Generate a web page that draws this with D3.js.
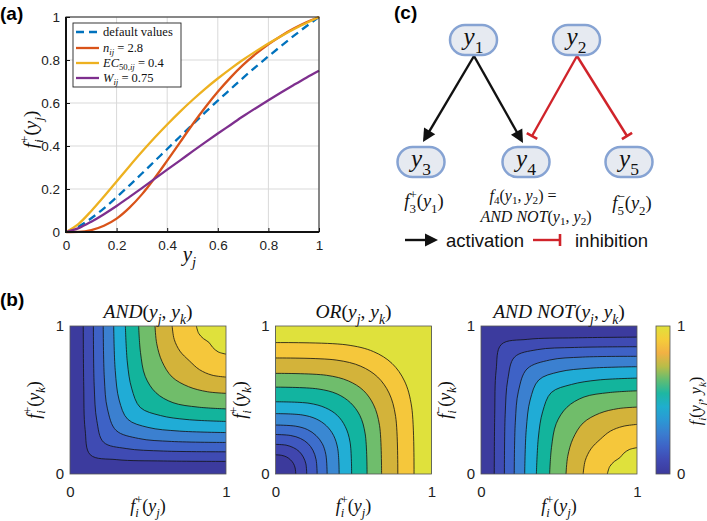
<!DOCTYPE html>
<html>
<head>
<meta charset="utf-8">
<style>
	body { margin: 0; background: #fff; }
	svg { display: block; }
	text { white-space: pre; }
	.axis .domain { display: none; }
</style>
</head>
<body>
<svg width="707" height="521"></svg>
<script src="https://d3js.org/d3.v7.min.js"></script>
<script>

// ---------- data, panel (a) ----------
var xVals = [0,0.05,0.1,0.15,0.2,0.25,0.3,0.35,0.4,0.45,0.5,0.55,0.6,0.65,0.7,0.75,0.8,0.85,0.9,0.95,1];
var defaultVals = [0,0.025,0.064,0.11,0.162,0.216,0.272,0.329,0.386,0.443,0.5,0.556,0.611,0.664,0.717,0.768,0.817,0.865,0.912,0.957,1];
var nVals = [0,0.001,0.009,0.029,0.062,0.112,0.175,0.25,0.332,0.416,0.5,0.579,0.652,0.718,0.777,0.828,0.873,0.912,0.946,0.975,1];
var ecVals = [0,0.038,0.098,0.165,0.235,0.305,0.373,0.438,0.5,0.559,0.614,0.666,0.714,0.759,0.801,0.84,0.877,0.911,0.943,0.972,1];
var wVals = [0,0.018,0.048,0.083,0.121,0.162,0.204,0.247,0.29,0.332,0.375,0.417,0.458,0.498,0.538,0.576,0.613,0.649,0.684,0.718,0.75];
var aTicks = [0,0.2,0.4,0.6,0.8,1];

// ---------- data, panel (b): contour lines ----------
var andLines = [
	[[0.085,1],[0.088,0.6],[0.097,0.3],[0.13,0.13],[0.3,0.097],[0.6,0.088],[1,0.085]],
	[[0.15,1],[0.155,0.6],[0.172,0.36],[0.215,0.215],[0.36,0.172],[0.6,0.155],[1,0.15]],
	[[0.213,1],[0.22,0.65],[0.24,0.44],[0.295,0.295],[0.44,0.24],[0.65,0.22],[1,0.213]],
	[[0.28,1],[0.29,0.7],[0.315,0.5],[0.37,0.37],[0.5,0.315],[0.7,0.29],[1,0.28]],
	[[0.355,1],[0.368,0.75],[0.395,0.58],[0.45,0.45],[0.58,0.395],[0.75,0.368],[1,0.355]],
	[[0.44,1],[0.452,0.82],[0.482,0.66],[0.55,0.55],[0.66,0.482],[0.82,0.452],[1,0.44]],
	[[0.545,1],[0.556,0.88],[0.59,0.76],[0.655,0.655],[0.76,0.59],[0.88,0.556],[1,0.545]],
	[[0.655,1],[0.668,0.91],[0.705,0.83],[0.765,0.765],[0.83,0.705],[0.91,0.668],[1,0.655]],
	[[0.81,1],[0.825,0.95],[0.855,0.915],[0.89,0.89],[0.915,0.855],[0.95,0.825],[1,0.81]]
];
var orLines = [
	[[0.13,0],[0.126,0.04],[0.115,0.071],[0.096,0.096],[0.071,0.115],[0.04,0.126],[0,0.13]],
	[[0.2,0],[0.195,0.068],[0.178,0.115],[0.152,0.152],[0.115,0.178],[0.068,0.195],[0,0.2]],
	[[0.267,0],[0.26,0.098],[0.24,0.16],[0.207,0.207],[0.16,0.24],[0.098,0.26],[0,0.267]],
	[[0.331,0],[0.323,0.13],[0.3,0.205],[0.26,0.26],[0.205,0.3],[0.13,0.323],[0,0.331]],
	[[0.408,0],[0.399,0.171],[0.372,0.261],[0.326,0.326],[0.261,0.372],[0.171,0.399],[0,0.408]],
	[[0.488,0],[0.478,0.215],[0.447,0.321],[0.396,0.396],[0.321,0.447],[0.215,0.478],[0,0.488]],
	[[0.587,0],[0.575,0.271],[0.541,0.395],[0.481,0.481],[0.395,0.541],[0.271,0.575],[0,0.587]],
	[[0.68,0],[0.667,0.327],[0.629,0.467],[0.564,0.564],[0.467,0.629],[0.327,0.667],[0,0.68]],
	[[0.784,0],[0.77,0.389],[0.728,0.547],[0.655,0.655],[0.547,0.728],[0.389,0.77],[0,0.784]],
	[[0.888,0],[0.873,0.452],[0.827,0.628],[0.747,0.747],[0.628,0.827],[0.452,0.873],[0,0.888]]
];
var andNotLines = [
	[[0.085,0],[0.088,0.4],[0.097,0.7],[0.13,0.875],[0.3,0.91],[0.6,0.92],[1,0.925]],
	[[0.15,0],[0.155,0.4],[0.172,0.64],[0.215,0.79],[0.36,0.84],[0.6,0.855],[1,0.86]],
	[[0.213,0],[0.22,0.35],[0.24,0.56],[0.295,0.71],[0.44,0.77],[0.65,0.79],[1,0.795]],
	[[0.28,0],[0.29,0.3],[0.315,0.5],[0.37,0.635],[0.5,0.69],[0.7,0.715],[1,0.725]],
	[[0.355,0],[0.368,0.25],[0.395,0.42],[0.45,0.55],[0.58,0.605],[0.75,0.635],[1,0.648]],
	[[0.44,0],[0.452,0.18],[0.482,0.34],[0.55,0.45],[0.66,0.52],[0.82,0.55],[1,0.562]],
	[[0.545,0],[0.556,0.12],[0.59,0.24],[0.655,0.345],[0.76,0.41],[0.88,0.442],[1,0.452]],
	[[0.655,0],[0.668,0.09],[0.705,0.17],[0.765,0.235],[0.83,0.29],[0.91,0.322],[1,0.335]],
	[[0.81,0],[0.825,0.05],[0.855,0.085],[0.89,0.11],[0.915,0.14],[0.95,0.165],[1,0.178]]
];
var bTicks = [0,1];

// ---------- data, panel (c) ----------
var nodes = ["y1","y2","y3","y4","y5"];
var edges = [["y1","y3","act"],["y1","y4","act"],["y2","y4","inh"],["y2","y5","inh"]];

// ---------- styles ----------
var SANS = "'Liberation Sans', Arial, Helvetica, sans-serif";
var SERIF = "'Liberation Serif', 'Times New Roman', serif";
var lineColors = ["#0072bd","#d95319","#edb120","#7e2f8e"];
var band10 = ["#3c3b9e","#3f4bb3","#3e62c6","#3b80d0","#20acd6","#13b49c","#70bd6a","#d3b33a","#f5c73b","#dfe13c"];
var band11 = ["#3c3a9c","#4046ae","#3f58c0","#3d6ecc","#3a88d2","#22aed5","#12b4a0","#6fbd6c","#d3b33a","#f5c73b","#dfe13c"];
var cbarStops = ["#3c3a9c","#4049b2","#3e62c6","#3a7dd0","#2b98d4","#1faece","#1eb7a2","#62bd72","#b9bd48","#f2b144","#f5cd3a","#e0e13b"];

var svg = d3.select("svg");

// small helper: text with sub/superscripts built from tspans
function mathText(sel, toks, fs, subDrop) {
	var t = sel.append("text").attr("font-family", SERIF).attr("font-size", fs).attr("fill", "#111");
	var base = 0, pend = 0;
	var drop = subDrop == null ? 0.3 : subDrop;
	toks.forEach(function(tok) {
		var k = tok[0];
		if (k === "n" || k === "i") {
			t.append("tspan").attr("dy", -base).attr("dx", pend)
				.attr("font-style", k === "i" ? "italic" : "normal").text(tok[1]);
			base = 0; pend = 0;
		} else if (k === "b" || k === "bi") {
			var d = fs * drop;
			t.append("tspan").attr("dy", d - base).attr("dx", pend).attr("font-size", fs * 0.7)
				.attr("font-style", k === "bi" ? "italic" : "normal").text(tok[1]);
			base = d; pend = 0;
		} else if (k === "bp") {
			var up = -fs * 0.42, dn = fs * drop;
			var s1 = t.append("tspan").attr("dy", up - base).attr("dx", pend).attr("font-size", fs * 0.7)
				.attr("font-style", "normal").text(tok[2]);
			var w1 = s1.node().getComputedTextLength();
			var s2 = t.append("tspan").attr("dy", dn - up).attr("dx", -w1).attr("font-size", fs * 0.7)
				.attr("font-style", tok[3] === "n" ? "normal" : "italic").text(tok[1]);
			var w2 = s2.node().getComputedTextLength();
			base = dn; pend = Math.max(0, w1 - w2);
		}
	});
	return t;
}

function panelLabel(x, y, s) {
	svg.append("text").attr("x", x).attr("y", y)
		.attr("font-family", SANS).attr("font-weight", "bold").attr("font-size", 19).text(s);
}

// ================= panel (a) =================
var gA = svg.append("g");
var xA = d3.scaleLinear().domain([0, 1]).range([66, 319]);
var yA = d3.scaleLinear().domain([0, 1]).range([232, 17]);

gA.selectAll(".gx").data(aTicks).join("line")
	.attr("x1", d => xA(d)).attr("x2", d => xA(d)).attr("y1", yA(0)).attr("y2", yA(1))
	.attr("stroke", "#d9d9d9").attr("stroke-width", 1);
gA.selectAll(".gy").data(aTicks).join("line")
	.attr("y1", d => yA(d)).attr("y2", d => yA(d)).attr("x1", xA(0)).attr("x2", xA(1))
	.attr("stroke", "#d9d9d9").attr("stroke-width", 1);

var series = [defaultVals, nVals, ecVals, wVals];
var lineA = d3.line().x((d, i) => xA(xVals[i])).y(d => yA(d)).curve(d3.curveMonotoneX);
gA.selectAll(".curve").data(series).join("path")
	.attr("d", d => lineA(d))
	.attr("fill", "none")
	.attr("stroke", (d, i) => lineColors[i])
	.attr("stroke-width", 2.3)
	.attr("stroke-dasharray", (d, i) => i === 0 ? "8,5" : null);

gA.append("rect").attr("x", xA(0)).attr("y", yA(1)).attr("width", xA(1) - xA(0)).attr("height", yA(0) - yA(1))
	.attr("fill", "none").attr("stroke", "#222").attr("stroke-width", 1);
gA.append("path").attr("d", "M" + xA(0) + "," + yA(1) + "V" + yA(0) + "H" + xA(1))
	.attr("fill", "none").attr("stroke", "#111").attr("stroke-width", 2);

gA.append("g").attr("class", "axis").attr("transform", "translate(0," + yA(0) + ")")
	.call(d3.axisBottom(xA).tickValues(aTicks).tickSize(-4).tickPadding(8).tickFormat(d3.format("~g")))
	.call(g => g.selectAll("text").attr("font-family", SANS).attr("font-size", 13.5).attr("fill", "#222"))
	.call(g => g.selectAll("line").attr("stroke", "#111"));
gA.append("g").attr("class", "axis").attr("transform", "translate(" + xA(0) + ",0)")
	.call(d3.axisLeft(yA).tickValues(aTicks).tickSize(-4).tickPadding(6).tickFormat(d3.format("~g")))
	.call(g => g.selectAll("text").attr("font-family", SANS).attr("font-size", 13.5).attr("fill", "#222"))
	.call(g => g.selectAll("line").attr("stroke", "#111"));

mathText(gA, [["i", "y"], ["bi", "j"]], 21).attr("x", (xA(0) + xA(1)) / 2 - 3).attr("y", 261).attr("text-anchor", "middle");
mathText(gA.append("g").attr("transform", "translate(37," + ((yA(0) + yA(1)) / 2 + 5) + ") rotate(-90)"),
	[["i", "f"], ["bp", "i", "+"], ["n", "("], ["i", "y"], ["bi", "j"], ["n", ")"]], 19).attr("text-anchor", "middle");

// legend
var legRows = [
	[["n", "default values"]],
	[["i", "n"], ["bi", "ij"], ["n", " = 2.8"]],
	[["i", "EC"], ["b", "50,"], ["bi", "ij"], ["n", " = 0.4"]],
	[["i", "W"], ["bi", "ij"], ["n", " = 0.75"]]
];
var legY = [32, 48, 63, 78];
var legG = gA.append("g");
legG.append("rect").attr("x", 73).attr("y", 23).attr("width", 108).attr("height", 64)
	.attr("fill", "#fff").attr("stroke", "#222").attr("stroke-width", 0.9);
legRows.forEach(function(row, i) {
	legG.append("line").attr("x1", 76).attr("x2", 99).attr("y1", legY[i]).attr("y2", legY[i])
		.attr("stroke", lineColors[i]).attr("stroke-width", 2.3)
		.attr("stroke-dasharray", i === 0 ? "8,5" : null);
	mathText(legG, row, 12.5, 0.2).attr("x", 103).attr("y", legY[i] + 4);
});

panelLabel(0, 20, "(a)");

// ================= panel (b) =================
var bY = d3.scaleLinear().domain([0, 1]).range([474, 326]);
var bPanels = [
	{ lines: andLines, colors: band10, corner: [[1, 1]], x0: 70,
	  title: [["i", "AND"], ["n", "("], ["i", "y"], ["bi", "j"], ["n", ", "], ["i", "y"], ["bi", "k"], ["n", ")"]], ysign: "+" },
	{ lines: orLines, colors: band11, corner: [[0, 1], [1, 1], [1, 0]], x0: 275.5,
	  title: [["i", "OR"], ["n", "("], ["i", "y"], ["bi", "j"], ["n", ", "], ["i", "y"], ["bi", "k"], ["n", ")"]], ysign: "+" },
	{ lines: andNotLines, colors: band10, corner: [[1, 0]], x0: 481,
	  title: [["i", "AND NOT"], ["n", "("], ["i", "y"], ["bi", "j"], ["n", ", "], ["i", "y"], ["bi", "k"], ["n", ")"]], ysign: "\u2212" }
];

bPanels.forEach(function(p, pi) {
	var bx = d3.scaleLinear().domain([0, 1]).range([p.x0, p.x0 + 156]);
	var g = svg.append("g");
	var cid = "clipb" + pi;
	g.append("clipPath").attr("id", cid).append("rect")
		.attr("x", bx(0)).attr("y", bY(1)).attr("width", bx(1) - bx(0)).attr("height", bY(0) - bY(1));
	var inner = g.append("g").attr("clip-path", "url(#" + cid + ")");
	inner.append("rect").attr("x", bx(0)).attr("y", bY(1)).attr("width", bx(1) - bx(0)).attr("height", bY(0) - bY(1))
		.attr("fill", p.colors[0]);
	var ln = d3.line().x(d => bx(d[0])).y(d => bY(d[1])).curve(d3.curveCatmullRom.alpha(0.5));
	var tail = p.corner.map(c => "L" + bx(c[0]) + "," + bY(c[1])).join("") + "Z";
	inner.selectAll(".band").data(p.lines).join("path")
		.attr("d", d => ln(d) + tail)
		.attr("fill", (d, i) => p.colors[i + 1]);
	inner.selectAll(".cline").data(p.lines).join("path")
		.attr("d", d => ln(d))
		.attr("fill", "none").attr("stroke", "#111").attr("stroke-width", 0.8);
	g.append("rect").attr("x", bx(0)).attr("y", bY(1)).attr("width", bx(1) - bx(0)).attr("height", bY(0) - bY(1))
		.attr("fill", "none").attr("stroke", "#555").attr("stroke-width", 0.8);

	g.append("g").attr("class", "axis").attr("transform", "translate(0," + bY(0) + ")")
		.call(d3.axisBottom(bx).tickValues(bTicks).tickSize(0).tickPadding(12).tickFormat(d3.format("d")))
		.call(s => s.selectAll("text").attr("font-family", SANS).attr("font-size", 15).attr("fill", "#222"));
	g.append("g").attr("class", "axis").attr("transform", "translate(" + bx(0) + ",0)")
		.call(d3.axisLeft(bY).tickValues(bTicks).tickSize(0).tickPadding(6).tickFormat(d3.format("d")))
		.call(s => s.selectAll("text").attr("font-family", SANS).attr("font-size", 15).attr("fill", "#222"));

	mathText(g, p.title, 19.5).attr("x", (bx(0) + bx(1)) / 2).attr("y", 318).attr("text-anchor", "middle");
	mathText(g, [["i", "f"], ["bp", "i", "+"], ["n", "("], ["i", "y"], ["bi", "j"], ["n", ")"]], 18)
		.attr("x", (bx(0) + bx(1)) / 2).attr("y", 512).attr("text-anchor", "middle");
	mathText(g.append("g").attr("transform", "translate(" + (bx(0) - 30) + "," + ((bY(0) + bY(1)) / 2) + ") rotate(-90)"),
		[["i", "f"], ["bp", "i", p.ysign], ["n", "("], ["i", "y"], ["bi", "k"], ["n", ")"]], 18).attr("text-anchor", "middle");
});

// colorbar
var cb = svg.append("g");
var cbY = d3.scaleLinear().domain([0, 1]).range([474, 326]);
var grad = cb.append("defs").append("linearGradient").attr("id", "parula")
	.attr("x1", 0).attr("y1", 1).attr("x2", 0).attr("y2", 0);
grad.selectAll("stop").data(cbarStops).join("stop")
	.attr("offset", (d, i) => i / (cbarStops.length - 1))
	.attr("stop-color", d => d);
cb.append("rect").attr("x", 656).attr("y", cbY(1)).attr("width", 14).attr("height", cbY(0) - cbY(1))
	.attr("fill", "url(#parula)").attr("stroke", "#555").attr("stroke-width", 0.8);
cb.append("g").attr("class", "axis").attr("transform", "translate(670,0)")
	.call(d3.axisRight(cbY).tickValues(bTicks).tickSize(0).tickPadding(7).tickFormat(d3.format("d")))
	.call(s => s.selectAll("text").attr("font-family", SANS).attr("font-size", 15).attr("fill", "#222"));
mathText(cb.append("g").attr("transform", "translate(701,401) rotate(-90)"),
	[["i", "f"], ["bi", "i"], ["n", "("], ["i", "y"], ["bi", "j"], ["n", ", "], ["i", "y"], ["bi", "k"], ["n", ")"]], 16)
	.attr("text-anchor", "middle");

panelLabel(0, 306, "(b)");

// ================= panel (c) =================
var gC = svg.append("g");
var nodePos = { y1: [473.5, 40], y2: [576.5, 40], y3: [421, 162], y4: [526, 162], y5: [629, 162] };
var nodeW = 47, nodeH = 30;
var edgeEnds = { "y1-y3": [[474, 56], [423, 142]], "y1-y4": [[474, 56], [523, 143]],
	"y2-y4": [[577, 56], [532, 136]], "y2-y5": [[577, 56], [627, 136]] };

function arrowHead(g, x, y, ang, col) {
	var L = 13, W = 6.5;
	var bx = x - L * Math.cos(ang), by = y - L * Math.sin(ang);
	var px = -Math.sin(ang) * W, py = Math.cos(ang) * W;
	g.append("path").attr("d", "M" + x + "," + y + "L" + (bx + px) + "," + (by + py) + "L" + (bx - px) + "," + (by - py) + "Z")
		.attr("fill", col);
}
function inhBar(g, x, y, ang, col) {
	var W = 6;
	var px = -Math.sin(ang) * W, py = Math.cos(ang) * W;
	g.append("line").attr("x1", x + px).attr("y1", y + py).attr("x2", x - px).attr("y2", y - py)
		.attr("stroke", col).attr("stroke-width", 2.6);
}

edges.forEach(function(e) {
	var pts = edgeEnds[e[0] + "-" + e[1]];
	var a = pts[0], b = pts[1];
	var ang = Math.atan2(b[1] - a[1], b[0] - a[0]);
	var col = e[2] === "act" ? "#111" : "#d0232a";
	var shorten = e[2] === "act" ? 8 : 0;
	gC.append("line").attr("x1", a[0]).attr("y1", a[1])
		.attr("x2", b[0] - shorten * Math.cos(ang)).attr("y2", b[1] - shorten * Math.sin(ang))
		.attr("stroke", col).attr("stroke-width", 2.4);
	if (e[2] === "act") arrowHead(gC, b[0], b[1], ang, col);
	else inhBar(gC, b[0], b[1], ang, col);
});

nodes.forEach(function(n) {
	var p = nodePos[n];
	gC.append("rect").attr("x", p[0] - nodeW / 2).attr("y", p[1] - nodeH / 2)
		.attr("width", nodeW).attr("height", nodeH).attr("rx", nodeH / 2)
		.attr("fill", "#e6eaf1").attr("stroke", "#86a3d3").attr("stroke-width", 2.5);
	mathText(gC, [["i", "y"], ["b", n.slice(1)]], 25).attr("x", p[0]).attr("y", p[1] + 5).attr("text-anchor", "middle");
});

mathText(gC, [["i", "f"], ["bp", "3", "+", "n"], ["n", "("], ["i", "y"], ["b", "1"], ["n", ")"]], 18.5)
	.attr("x", 424).attr("y", 207).attr("text-anchor", "middle");
mathText(gC, [["i", "f"], ["b", "4"], ["n", "("], ["i", "y"], ["b", "1"], ["n", ", "], ["i", "y"], ["b", "2"], ["n", ") ="]], 16, 0.18)
	.attr("x", 523).attr("y", 201).attr("text-anchor", "middle");
mathText(gC, [["i", "AND NOT"], ["n", "("], ["i", "y"], ["b", "1"], ["n", ", "], ["i", "y"], ["b", "2"], ["n", ")"]], 16, 0.18)
	.attr("x", 536).attr("y", 222).attr("text-anchor", "middle");
mathText(gC, [["i", "f"], ["bp", "5", "\u2212", "n"], ["n", "("], ["i", "y"], ["b", "2"], ["n", ")"]], 18.5)
	.attr("x", 632).attr("y", 209).attr("text-anchor", "middle");

// key
gC.append("line").attr("x1", 405).attr("x2", 430).attr("y1", 240).attr("y2", 240).attr("stroke", "#111").attr("stroke-width", 2.4);
arrowHead(gC, 438, 240, 0, "#111");
gC.append("text").attr("x", 446).attr("y", 247).attr("font-family", SANS).attr("font-size", 18.5).attr("fill", "#111").text("activation");
gC.append("line").attr("x1", 533).attr("x2", 560).attr("y1", 240).attr("y2", 240).attr("stroke", "#d0232a").attr("stroke-width", 2.4);
inhBar(gC, 560, 240, 0, "#d0232a");
gC.append("text").attr("x", 575).attr("y", 247).attr("font-family", SANS).attr("font-size", 18.5).attr("fill", "#111").text("inhibition");

panelLabel(394, 19, "(c)");

</script>
</body>
</html>
